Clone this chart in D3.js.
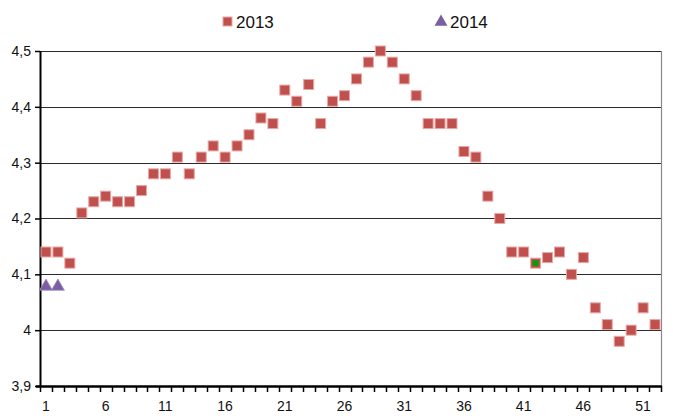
<!DOCTYPE html>
<html><head><meta charset="utf-8">
<script src="https://cdn.jsdelivr.net/npm/d3@7"></script>
<style>body{margin:0;background:#fff}svg{display:block;font-family:"Liberation Sans",Arial,sans-serif}</style>
</head><body><svg id="c" width="673" height="416"></svg>
<script>
const weeks = d3.range(1, 53);
const values2013 = [4.14,4.14,4.12,4.21,4.23,4.24,4.23,4.23,4.25,4.28,4.28,4.31,4.28,4.31,4.33,4.31,4.33,4.35,4.38,4.37,4.43,4.41,4.44,4.37,4.41,4.42,4.45,4.48,4.50,4.48,4.45,4.42,4.37,4.37,4.37,4.32,4.31,4.24,4.20,4.14,4.14,4.12,4.13,4.14,4.10,4.13,4.04,4.01,3.98,4.00,4.04,4.01];
const weeks2014 = [1, 2];
const values2014 = [4.08, 4.08];
const highlightWeek = [42];
const yTicks = [3.9, 4.0, 4.1, 4.2, 4.3, 4.4, 4.5];
const xLabelWeeks = [1, 6, 11, 16, 21, 26, 31, 36, 41, 46, 51];
const seriesNames = ["2013", "2014"];

const svg = d3.select("#c");
const L = 40, R = 661, T = 51, B = 386;
const x = d3.scaleBand().domain(weeks).range([L, R]).padding(0);
const cx = w => x(w) + x.bandwidth() / 2;
const y = d3.scaleLinear().domain([3.9, 4.5]).range([B, T]);
const fmt = v => (Math.round(v * 10) / 10 === 4 ? "4" : d3.format(".1f")(v).replace(".", ","));

// gridlines
svg.append("g").selectAll("line").data(yTicks.filter(v => v > 3.9)).join("line")
  .attr("x1", L).attr("x2", R).attr("y1", d => Math.round(y(d)) + 0.5).attr("y2", d => Math.round(y(d)) + 0.5)
  .attr("stroke", "#2a2a2a").attr("stroke-width", 1);
// right border
svg.append("line").attr("x1", R + 0.5).attr("x2", R + 0.5).attr("y1", T).attr("y2", B)
  .attr("stroke", "#8a8a8a").attr("stroke-width", 1.2);

// y axis
const yAxis = d3.axisLeft(y).tickValues(yTicks).tickFormat(fmt).tickSize(5).tickPadding(4);
const gy = svg.append("g").attr("transform", `translate(${L},0)`).call(yAxis);
gy.select(".domain").attr("stroke", "#000").attr("stroke-width", 2).attr("d", `M0.5,${B}V${T}`);
gy.selectAll(".tick line").attr("stroke", "#000").attr("stroke-width", 1.5);
gy.selectAll(".tick text").attr("font-size", 14).attr("fill", "#111").attr("font-family", "'Liberation Sans',Arial,sans-serif");

// x axis
const gx = svg.append("g").attr("transform", `translate(0,${B})`);
gx.append("line").attr("x1", L - 4).attr("x2", R + 1).attr("y1", 0.5).attr("y2", 0.5).attr("stroke", "#000").attr("stroke-width", 2.5);
const bounds = weeks.map(w => x(w)).concat([R]);
gx.selectAll("line.tk").data(bounds).join("line").attr("class", "tk")
  .attr("x1", d => Math.round(d) + 0.5).attr("x2", d => Math.round(d) + 0.5).attr("y1", 0).attr("y2", 6)
  .attr("stroke", "#000").attr("stroke-width", 1.5);
gx.selectAll("text").data(xLabelWeeks).join("text")
  .attr("x", d => cx(d)).attr("y", 25).attr("text-anchor", "middle")
  .attr("font-size", 14).attr("fill", "#111").text(d => d);

// 2013 squares
const s = 10;
svg.append("g").selectAll("rect").data(weeks).join("rect")
  .attr("x", (d, i) => cx(d) - s / 2).attr("y", (d, i) => y(values2013[i]) - s / 2)
  .attr("width", s).attr("height", s)
  .attr("fill", "#c0504d").attr("stroke", "#e8a8a6").attr("stroke-width", 1);
// highlighted point
svg.append("g").selectAll("rect").data(highlightWeek).join("rect")
  .attr("x", d => cx(d) - 3).attr("y", d => y(values2013[d - 1]) - 3)
  .attr("width", 6).attr("height", 6).attr("fill", "#0a9a0a");

// 2014 triangles
const tri = d3.symbol().type(d3.symbolTriangle).size(72);
svg.append("g").selectAll("path").data(weeks2014).join("path")
  .attr("transform", (d, i) => `translate(${cx(d)},${y(values2014[i]) + 1})`)
  .attr("d", tri).attr("fill", "#7a5ea0").attr("stroke", "#a08cc0").attr("stroke-width", 0.8);

// legend
const lg = svg.append("g");
lg.append("rect").attr("x", 223).attr("y", 17).attr("width", 9).attr("height", 9)
  .attr("fill", "#c0504d").attr("stroke", "#e8a8a6").attr("stroke-width", 1);
lg.append("text").attr("x", 236).attr("y", 28).attr("font-size", 17).attr("fill", "#111").text(seriesNames[0]);
lg.append("path").attr("transform", "translate(441,22)").attr("d", tri).attr("fill", "#7a5ea0");
lg.append("text").attr("x", 450).attr("y", 28).attr("font-size", 17).attr("fill", "#111").text(seriesNames[1]);
</script></body></html>
